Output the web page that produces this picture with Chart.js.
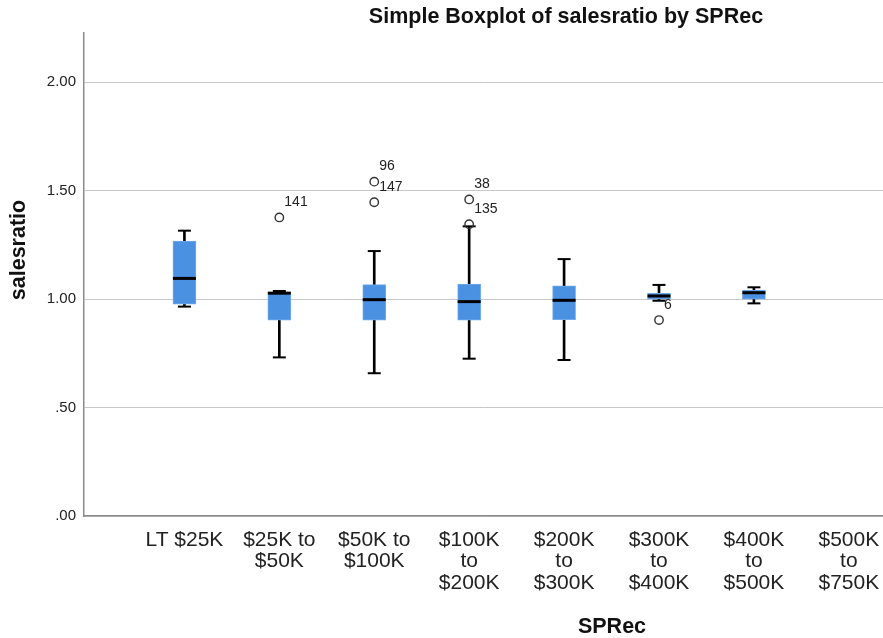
<!DOCTYPE html>
<html>
<head>
<meta charset="utf-8">
<title>Simple Boxplot of salesratio by SPRec</title>
<script src="https://cdn.jsdelivr.net/npm/chart.js@4"></script>
<style>
  html, body { margin: 0; padding: 0; background: #ffffff; }
  #chart { display: block; }
</style>
</head>
<body>
<canvas id="chart" width="883" height="638"></canvas>
<script>
// Groups of the SPRec variable (multi-line tick labels)
const categories = [
  ['LT $25K'],
  ['$25K to', '$50K'],
  ['$50K to', '$100K'],
  ['$100K', 'to', '$200K'],
  ['$200K', 'to', '$300K'],
  ['$300K', 'to', '$400K'],
  ['$400K', 'to', '$500K'],
  ['$500K', 'to', '$750K']
];

// Box summaries of salesratio per group (null = no cases in group)
const whiskerLow  = [0.965, 0.731, 0.658, 0.725, 0.719, 0.992, 0.980, null];
const q1          = [0.976, 0.902, 0.903, 0.903, 0.905, 0.999, 0.999, null];
const median      = [1.095, 1.027, 0.997, 0.988, 0.994, 1.014, 1.029, null];
const q3          = [1.267, 1.032, 1.066, 1.069, 1.061, 1.026, 1.041, null];
const whiskerHigh = [1.315, 1.037, 1.221, 1.335, 1.184, 1.065, 1.054, null];

// Outlying cases: group index, value, case number
const outlierGroup = [1, 2, 2, 3, 3, 5];
const outlierValue = [1.376, 1.541, 1.446, 1.459, 1.345, 0.903];
const outlierCase  = ['141', '96', '147', '38', '135', '6'];

// Value axis ticks
const yTicks      = [0, 0.5, 1, 1.5, 2];
const yTickLabels = ['.00', '.50', '1.00', '1.50', '2.00'];

const chartTitle = 'Simple Boxplot of salesratio by SPRec';
const xTitle = 'SPRec';
const yTitle = 'salesratio';

const FONT = '"Liberation Sans", Arial, Helvetica, sans-serif';
const BOX_FILL = '#4b91e2';
const BOX_EDGE = '#70aaec';

const groups = categories.map((_, i) => i);
const present = groups.filter(i => q1[i] !== null);

const boxes      = present.map(i => ({ x: i, y: [q1[i], q3[i]] }));
const lowStems   = present.map(i => ({ x: i, y: [whiskerLow[i], q1[i]] }));
const highStems  = present.map(i => ({ x: i, y: [q3[i], whiskerHigh[i]] }));
const caps       = present.flatMap(i => [{ x: i, y: whiskerLow[i] }, { x: i, y: whiskerHigh[i] }]);
const medians    = present.map(i => ({ x: i, y: median[i] }));
const outliers   = outlierGroup.map((g, k) => ({ x: g, y: outlierValue[k] }));

// Chart, x-axis and y-axis titles
const titlesPlugin = {
  id: 'boxTitles',
  afterDraw(chart) {
    const ctx = chart.ctx;
    ctx.save();
    ctx.fillStyle = '#111111';
    ctx.font = 'bold 21.5px ' + FONT;
    ctx.textAlign = 'center';
    ctx.textBaseline = 'middle';
    ctx.fillText(chartTitle, 566, 17);
    ctx.fillText(xTitle, 612, 627);
    ctx.translate(19, 250);
    ctx.rotate(-Math.PI / 2);
    ctx.fillText(yTitle, 0, 0);
    ctx.restore();
  }
};

// Case numbers next to outlying points
const outlierLabels = {
  id: 'outlierLabels',
  afterDatasetsDraw(chart) {
    const idx = chart.data.datasets.findIndex(d => d.label === 'outliers');
    const meta = chart.getDatasetMeta(idx);
    const ctx = chart.ctx;
    ctx.save();
    ctx.fillStyle = '#222222';
    ctx.font = '14px ' + FONT;
    ctx.textAlign = 'left';
    ctx.textBaseline = 'middle';
    meta.data.forEach((pt, k) => {
      ctx.fillText(outlierCase[k], pt.x + 5, pt.y - 15);
    });
    ctx.restore();
  }
};

new Chart(document.getElementById('chart'), {
  type: 'bar',
  data: {
    datasets: [
      {
        label: 'lower whisker',
        data: lowStems,
        backgroundColor: '#000000',
        barThickness: 2,
        grouped: false,
        order: 6
      },
      {
        label: 'upper whisker',
        data: highStems,
        backgroundColor: '#000000',
        barThickness: 2,
        grouped: false,
        order: 6
      },
      {
        label: 'box',
        data: boxes,
        backgroundColor: BOX_FILL,
        borderColor: BOX_EDGE,
        borderWidth: 1,
        borderSkipped: false,
        barThickness: 23,
        grouped: false,
        order: 4
      },
      {
        type: 'scatter',
        label: 'caps',
        data: caps,
        pointStyle: 'line',
        pointRadius: 6.5,
        pointHoverRadius: 6.5,
        borderColor: '#000000',
        borderWidth: 2,
        order: 3
      },
      {
        type: 'scatter',
        label: 'median',
        data: medians,
        pointStyle: 'line',
        pointRadius: 11.5,
        pointHoverRadius: 11.5,
        borderColor: '#000000',
        borderWidth: 3,
        order: 2
      },
      {
        type: 'scatter',
        label: 'outliers',
        data: outliers,
        pointStyle: 'circle',
        pointRadius: 4.2,
        pointHoverRadius: 4.2,
        backgroundColor: 'rgba(255,255,255,0)',
        borderColor: '#333333',
        borderWidth: 1.4,
        order: 1
      }
    ]
  },
  options: {
    responsive: false,
    animation: false,
    devicePixelRatio: 1,
    layout: { autoPadding: false, padding: { top: 33, left: 0, right: 0, bottom: 0 } },
    plugins: {
      legend: { display: false },
      title: { display: false },
      tooltip: { enabled: false }
    },
    scales: {
      x: {
        type: 'linear',
        min: -1.058,
        max: 7.36,
        offset: false,
        grid: { display: false, drawTicks: false, offset: false },
        border: { display: true, color: '#8a8a8a', width: 1.5 },
        afterBuildTicks: s => { s.ticks = groups.map(v => ({ value: v })); },
        afterFit: s => { s.height = 122; s.paddingLeft = 0; s.paddingRight = 0; },
        ticks: {
          autoSkip: false,
          maxRotation: 0,
          minRotation: 0,
          padding: 13,
          color: '#222222',
          font: { family: FONT, size: 21, lineHeight: 1.035 },
          callback: v => categories[v]
        }
      },
      y: {
        type: 'linear',
        min: 0,
        max: 2.226,
        grid: { color: '#c8c8c8', lineWidth: 1, drawTicks: false },
        border: { display: true, color: '#8a8a8a', width: 1.5 },
        afterBuildTicks: s => { s.ticks = yTicks.map(v => ({ value: v })); },
        afterFit: s => { s.width = 84; s.paddingTop = 0; s.paddingBottom = 0; },
        ticks: {
          padding: 8,
          color: '#222222',
          font: { family: FONT, size: 15 },
          callback: v => yTickLabels[yTicks.indexOf(v)]
        }
      }
    }
  },
  plugins: [titlesPlugin, outlierLabels]
});
</script>
</body>
</html>
